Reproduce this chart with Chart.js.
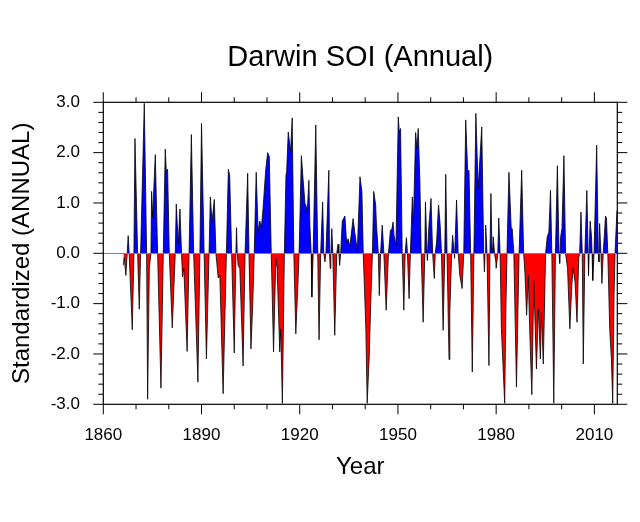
<!DOCTYPE html>
<html>
<head>
<meta charset="utf-8">
<script src="https://cdn.jsdelivr.net/npm/chart.js@4"></script>
<style>
  html, body { margin: 0; padding: 0; background: #ffffff; }
  #wrap { width: 640px; height: 522px; }
</style>
</head>
<body>
<div id="wrap"><canvas id="c" width="640" height="522"></canvas></div>
<script>
const years = [
  1866.1,1866.4,1866.9,1867.3,1867.6,1867.9,1868.85,1869.35,1869.67,1870.48,
  1870.99,1871.4,1872.52,1873.23,1873.54,1874.05,1874.55,1874.76,1875.06,1875.88,
  1876.59,1877.61,1878.32,1878.93,1879.24,1879.64,1880.15,1881.07,1881.98,1882.29,
  1882.9,1883.41,1883.9,1884.2,1884.6,1885.6,1886.2,1886.9,1887.6,1888.9,
  1889.5,1890.0,1890.8,1891.5,1892.3,1892.7,1893.2,1893.9,1894.4,1895.1,
  1895.6,1896.6,1897.6,1898.2,1898.6,1899.2,1900.0,1900.5,1900.7,1900.9,
  1901.2,1901.7,1902.7,1903.3,1904.1,1904.5,1905.1,1905.6,1906.1,1906.7,
  1907.3,1907.8,1908.3,1908.8,1909.6,1910.2,1910.7,1911.3,1912.0,1912.7,
  1913.1,1913.9,1914.2,1914.7,1915.3,1915.8,1916.0,1916.5,1917.2,1917.7,
  1918.2,1918.8,1919.4,1919.8,1920.5,1921.0,1921.6,1921.9,1922.3,1922.8,
  1923.1,1923.5,1923.7,1924.1,1924.9,1925.5,1925.9,1926.4,1927.0,1927.35,
  1927.7,1928.0,1928.9,1929.1,1929.3,1929.5,1929.8,1930.1,1930.7,1931.3,
  1931.7,1931.95,1932.2,1932.5,1933.0,1933.8,1934.3,1934.8,1935.3,1936.3,
  1936.8,1937.6,1938.4,1939.0,1939.4,1940.2,1940.6,1941.2,1941.7,1942.2,
  1942.6,1943.2,1943.4,1944.0,1944.3,1944.7,1945.2,1945.7,1946.4,1947.1,
  1947.7,1948.2,1948.5,1948.8,1949.4,1950.1,1950.4,1950.8,1951.3,1951.8,
  1952.2,1952.6,1952.9,1953.4,1953.8,1954.4,1954.7,1955.4,1955.8,1956.2,
  1956.7,1957.1,1957.7,1958.2,1958.4,1958.9,1959.0,1959.4,1960.1,1960.6,
  1961.1,1961.4,1961.8,1962.4,1962.9,1963.3,1963.8,1964.3,1964.6,1965.0,
  1965.6,1965.85,1966.4,1966.7,1967.3,1967.9,1968.4,1968.9,1969.6,1970.1,
  1970.7,1971.3,1971.7,1972.2,1972.7,1973.2,1973.8,1974.5,1975.6,1976.2,
  1976.4,1976.6,1976.8,1977.2,1977.8,1978.1,1978.4,1978.7,1978.9,1979.1,
  1979.5,1979.9,1980.0,1980.5,1980.8,1981.2,1981.6,1982.6,1983.0,1983.3,
  1983.9,1984.6,1984.9,1985.4,1986.2,1987.0,1987.8,1988.4,1988.8,1989.3,
  1989.8,1990.3,1990.9,1991.5,1992.3,1992.9,1993.5,1993.8,1994.4,1995.1,
  1995.6,1996.1,1996.6,1997.0,1997.6,1998.1,1998.7,1999.2,1999.4,1999.7,
  2000.1,2000.7,2001.2,2001.8,2002.5,2003.1,2003.5,2004.1,2004.7,2005.2,
  2005.5,2005.9,2006.3,2006.6,2007.1,2007.7,2008.1,2008.2,2008.4,2008.7,
  2009.1,2009.3,2009.5,2009.9,2010.7,2011.2,2011.4,2011.6,2012.0,2012.3,
  2012.7,2013.4,2013.7,2014.1,2014.7,2015.2,2015.6,2016.0,2016.3,2016.9
];
const soi = [
  -0.24,-0.09,-0.44,0,0.35,0,-1.52,0,2.28,0,
  -1.11,0,2.98,0,-2.9,-0.3,0,1.23,0.72,1.96,
  0,-2.68,0,2.07,1.62,1.67,0,-1.48,0,0.98,
  0.18,0.88,0,-0.47,-0.3,-1.95,0,2.36,0,-2.56,
  0,2.58,0,-2.1,0,1.12,0.62,1.07,0,-0.49,
  -0.44,-2.79,0,1.67,1.55,0,-1.98,0,0.51,0,
  -0.24,-0.3,-2.24,0,1.59,0,-1.9,-1.1,0,1.61,
  0.42,0.64,0.52,0.89,1.65,2.0,1.92,0,-1.96,-0.1,
  -0.3,-1.96,-1.5,-2.98,0,1.55,1.62,2.41,2.02,2.69,
  0,-1.6,-0.67,0,1.94,1.49,0.99,0.95,0.82,1.45,
  0.56,0,-0.87,0,2.55,0,-1.72,0,1.02,0,
  -0.17,0,1.65,0,-0.3,0,0.49,0,-1.63,0,
  0.18,0,-0.24,0,0.64,0.74,0.22,0.29,0.13,0.69,
  0.42,0.05,1.52,1.22,0,-1.5,-2.98,-2.1,-0.97,0,
  1.23,0.96,0.62,0,-0.84,0,0.56,0,-1.13,0,
  0.46,0.49,0.62,0.36,0.16,2.71,2.41,2.48,0,-1.13,
  0,0.31,0,-0.9,0,1.12,0.56,2.4,2.08,2.48,
  1.42,0,-1.37,0,1.02,0.03,-0.14,0.49,1.09,0,
  -0.5,0,0.22,0.96,0.56,0,-1.53,0,1.57,0,
  -2.11,-1.17,0,0.36,-0.1,1.06,0,-0.44,-0.7,0,
  2.65,1.62,1.65,0,-2.36,0,2.78,1.29,2.51,0,
  -0.37,0,0.56,0,-2.23,0,1.19,0.13,0.03,0.33,
  0,-0.17,-0.3,0,0.7,0,-1.5,-2.98,-1.0,0,
  1.61,0.49,0.49,0,-2.66,0,1.65,0,-0.4,-1.23,
  -0.44,-1.63,-2.81,-0.54,-2.3,-1.1,-2.1,-1.17,-2.2,0,
  0.33,0.42,1.25,0,-2.98,0,1.74,0.03,-0.2,0.33,
  0.49,1.94,0,-0.3,-1.5,-0.64,-0.3,-0.57,-1.37,-0.1,
  0,0.82,0,-2.2,0,1.25,0,-0.44,0,0.64,
  0.36,0,-0.54,0,2.15,0,-0.17,0.59,0,-0.6,
  0,0.74,0.69,0,-1.53,-2.1,-2.98,-0.84,0,0.85
];
const xTickLabels = [1860, 1890, 1920, 1950, 1980, 2010];
const xMinorTicks = [1870, 1880, 1900, 1910, 1930, 1940, 1960, 1970, 1990, 2000];
const yTickLabels = [-3, -2, -1, 0, 1, 2, 3];

const FONT = "'Liberation Sans', Arial, Helvetica, sans-serif";

const framePlugin = {
  id: 'frame',
  afterDatasetsDraw(chart) {
    const {ctx, chartArea: a, scales: {x, y}} = chart;
    ctx.save();
    ctx.strokeStyle = '#808080';
    ctx.lineWidth = 1;
    const y0 = Math.round(y.getPixelForValue(0)) + 0.5;
    ctx.beginPath(); ctx.moveTo(a.left, y0); ctx.lineTo(a.right, y0); ctx.stroke();
    ctx.strokeStyle = '#000000';
    ctx.lineWidth = 1.2;
    ctx.strokeRect(a.left, a.top, a.right - a.left, a.bottom - a.top);
    ctx.lineWidth = 1;
    ctx.beginPath();
    const xt = (v, len) => {
      const px = x.getPixelForValue(v);
      ctx.moveTo(px, a.bottom); ctx.lineTo(px, a.bottom + len);
      ctx.moveTo(px, a.top); ctx.lineTo(px, a.top - len);
    };
    xTickLabels.forEach(v => xt(v, 10));
    xMinorTicks.forEach(v => xt(v, 5));
    const yt = (v, len) => {
      const py = y.getPixelForValue(v);
      ctx.moveTo(a.left, py); ctx.lineTo(a.left - len, py);
      ctx.moveTo(a.right, py); ctx.lineTo(a.right + len, py);
    };
    yTickLabels.forEach(v => yt(v, 10));
    for (let k = -15; k <= 15; k++) {
      if (k % 5 !== 0) yt(k / 5, 5);
    }
    ctx.stroke();
    ctx.restore();
  }
};

new Chart(document.getElementById('c'), {
  type: 'line',
  data: {
    datasets: [{
      data: years.map((yr, i) => ({x: yr, y: soi[i]})),
      borderColor: '#000000',
      borderWidth: 0.8,
      pointRadius: 0,
      tension: 0,
      fill: {target: 'origin', above: 'rgb(0,0,255)', below: 'rgb(255,0,0)'}
    }]
  },
  options: {
    responsive: false,
    animation: false,
    devicePixelRatio: 1,
    layout: {padding: {left: 0, right: 22.7, top: 0, bottom: 0}},
    plugins: {
      legend: {display: false},
      tooltip: {enabled: false},
      title: {
        display: true,
        text: 'Darwin SOI (Annual)',
        fullSize: false,
        color: '#000000',
        font: {family: FONT, size: 29, weight: 'normal', lineHeight: 1.2},
        padding: {top: 41.0, bottom: 26.5}
      }
    },
    scales: {
      x: {
        type: 'linear',
        min: 1860,
        max: 2017,
        grid: {display: false, drawTicks: false},
        border: {display: false},
        afterBuildTicks: (s) => { s.ticks = xTickLabels.map(v => ({value: v})); },
        afterFit: (s) => { s.height = 522 - 404.3; },
        ticks: {
          color: '#000000',
          padding: 20.7,
          maxRotation: 0,
          autoSkip: false,
          font: {family: FONT, size: 17},
          callback: (v) => String(v)
        },
        title: {
          display: true,
          text: 'Year',
          color: '#000000',
          font: {family: FONT, size: 24, lineHeight: 1.2},
          padding: {top: 0, bottom: 40.6}
        }
      },
      y: {
        min: -3,
        max: 3,
        grid: {display: false, drawTicks: false},
        border: {display: false},
        afterBuildTicks: (s) => { s.ticks = yTickLabels.map(v => ({value: v})); },
        afterFit: (s) => { s.width = 103.3; },
        ticks: {
          color: '#000000',
          padding: 23.3,
          autoSkip: false,
          font: {family: FONT, size: 17},
          callback: (v) => Number(v).toFixed(1)
        },
        title: {
          display: true,
          text: 'Standardized (ANNUAL)',
          color: '#000000',
          font: {family: FONT, size: 24, lineHeight: 1.2},
          padding: {top: 8.1, bottom: 0}
        }
      }
    }
  },
  plugins: [framePlugin]
});
</script>
</body>
</html>
